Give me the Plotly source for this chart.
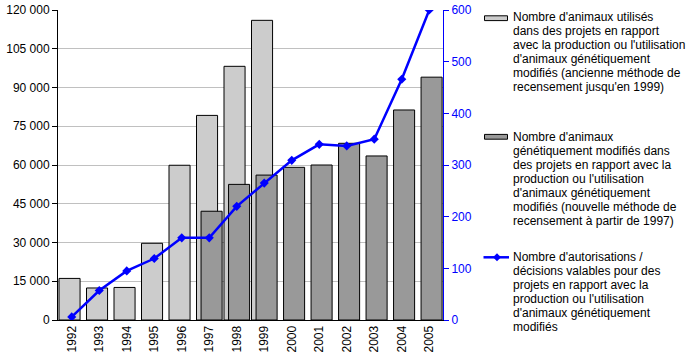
import plotly.graph_objects as go

# ---- data ----
years = list(range(1992, 2006))
old_years = list(range(1992, 2000))
old_method = [16100, 12400, 12600, 29700, 59900, 79200, 98200, 116000]
new_years = list(range(1997, 2006))
new_method = [42100, 52500, 56100, 59100, 60000, 68400, 63500, 81300, 94000]
authorisations = [6, 57, 95, 119, 159, 159, 220, 265, 309, 340, 337, 350, 466, 600]

left_ticks = list(range(0, 120001, 15000))
left_ticktext = ["0", "15 000", "30 000", "45 000", "60 000", "75 000", "90 000", "105 000", "120 000"]
right_ticks = list(range(0, 601, 100))

legend_old = ["Nombre d'animaux utilisés", "dans des projets en rapport",
              "avec la production ou l'utilisation", "d'animaux génétiquement",
              "modifiés (ancienne méthode de", "recensement jusqu'en 1999)"]
legend_new = ["Nombre d'animaux", "génétiquement modifiés dans",
              "des projets en rapport avec la", "production ou l'utilisation",
              "d'animaux génétiquement", "modifiés (nouvelle méthode de",
              "recensement à partir de 1997)"]
legend_line = ["Nombre d'autorisations /", "décisions valables pour des",
               "projets en rapport avec la", "production ou l'utilisation",
               "d'animaux génétiquement", "modifiés"]

LIGHT = "#CCCCCC"
DARK = "#999999"
BLUE = "#0000FF"
FONT = "Liberation Sans, Arial, sans-serif"

W, H = 697, 359
ML, MR, MT, MB = 58, 254, 10, 39
PW = W - ML - MR
PH = H - MT - MB

fig = go.Figure()
fig.add_trace(go.Bar(x=old_years, y=old_method, width=0.766, offset=-0.4635,
                     marker=dict(color=LIGHT, line=dict(color="black", width=1)),
                     showlegend=False))
fig.add_trace(go.Bar(x=new_years, y=new_method, width=0.766, offset=-0.298,
                     marker=dict(color=DARK, line=dict(color="black", width=1)),
                     showlegend=False))
fig.add_trace(go.Scatter(x=years, y=authorisations, yaxis="y2", mode="lines+markers",
                         line=dict(color=BLUE, width=2.5),
                         marker=dict(symbol="diamond", size=7, color=BLUE),
                         showlegend=False))


def px_x(p):
    return (p - ML) / PW


def px_y(p):
    return (H - MB - p) / PH


shapes = []
annotations = []


def add_lines(lines, y0):
    for i, t in enumerate(lines):
        annotations.append(dict(x=px_x(510.5), y=px_y(y0 + i * 14.0), xref="paper", yref="paper",
                                text=t, showarrow=False, xanchor="left", yanchor="middle",
                                font=dict(family=FONT, size=12, color="black")))


# legend entry 1
shapes.append(dict(type="rect", xref="paper", yref="paper",
                   x0=px_x(484.5), x1=px_x(507.5), y0=px_y(15.8), y1=px_y(20.6),
                   fillcolor=LIGHT, line=dict(color="black", width=1)))
add_lines(legend_old, 17.3)
# legend entry 2
shapes.append(dict(type="rect", xref="paper", yref="paper",
                   x0=px_x(484.5), x1=px_x(507.5), y0=px_y(134.4), y1=px_y(139.2),
                   fillcolor=DARK, line=dict(color="black", width=1)))
add_lines(legend_new, 136.7)
# legend entry 3
shapes.append(dict(type="line", xref="paper", yref="paper",
                   x0=px_x(483.5), x1=px_x(509), y0=px_y(257.3), y1=px_y(257.3),
                   line=dict(color=BLUE, width=2.5)))
cx, cy, r = 497, 257.3, 4
shapes.append(dict(type="path", xref="paper", yref="paper",
                   path="M {} {} L {} {} L {} {} L {} {} Z".format(
                       px_x(cx - r), px_y(cy), px_x(cx), px_y(cy - r),
                       px_x(cx + r), px_y(cy), px_x(cx), px_y(cy + r)),
                   fillcolor=BLUE, line=dict(color=BLUE, width=0)))
add_lines(legend_line, 256.7)

fig.update_layout(
    width=W, height=H,
    margin=dict(l=ML, r=MR, t=MT, b=MB, autoexpand=False),
    paper_bgcolor="white", plot_bgcolor="white",
    barmode="overlay",
    font=dict(family=FONT, size=12, color="black"),
    xaxis=dict(range=[1991.5, 2005.5], tickmode="array", tickvals=years,
               ticktext=[str(y) for y in years], tickangle=-90,
               showline=True, linecolor="black", linewidth=1,
               ticks="", showgrid=False, zeroline=False,
               tickfont=dict(family=FONT, size=12, color="black")),
    yaxis=dict(range=[0, 120000], tickmode="array", tickvals=left_ticks, ticktext=left_ticktext,
               showline=True, linecolor="black", linewidth=1,
               ticks="outside", ticklen=5, tickcolor="black",
               showgrid=True, gridcolor="#C0C0C0", gridwidth=1, zeroline=False,
               tickfont=dict(family=FONT, size=12, color="black")),
    yaxis2=dict(range=[0, 600], tickmode="array", tickvals=right_ticks,
                overlaying="y", side="right", anchor="x",
                showline=True, linecolor=BLUE, linewidth=1,
                ticks="outside", ticklen=5, tickcolor=BLUE,
                showgrid=False, zeroline=False,
                tickfont=dict(family=FONT, size=12, color=BLUE)),
    shapes=shapes,
    annotations=annotations,
)

fig.write_html("out.html", config={"displayModeBar": False},
               post_script="document.body.style.margin='0';document.body.style.padding='0';")
